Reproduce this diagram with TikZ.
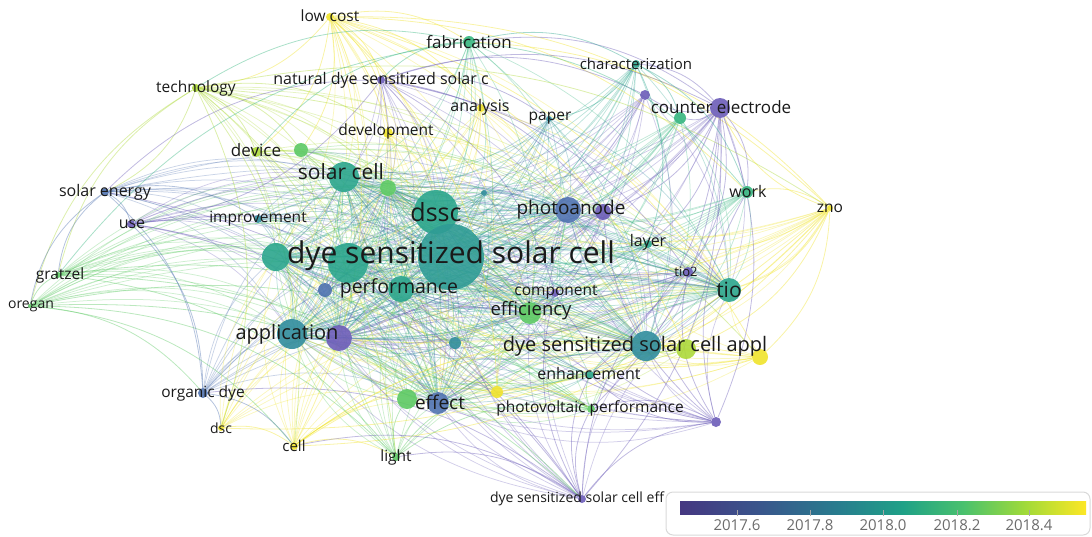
\documentclass[tikz,border=0pt]{standalone}
\usepackage{fontspec}
\setmainfont{Open Sans}
\definecolor{c1}{HTML}{6B5CB8}
\definecolor{c2}{HTML}{4F72B0}
\definecolor{c3}{HTML}{2F8C9C}
\definecolor{c4}{HTML}{2AA58C}
\definecolor{cbig}{HTML}{2F9C95}
\definecolor{c5}{HTML}{35B57E}
\definecolor{c6}{HTML}{5CC963}
\definecolor{c7}{HTML}{ADD93A}
\definecolor{c8}{HTML}{F0E32B}
\definecolor{v0}{HTML}{453781}
\definecolor{v1}{HTML}{39568C}
\definecolor{v2}{HTML}{277F8E}
\definecolor{v3}{HTML}{1FA187}
\definecolor{v4}{HTML}{4AC16D}
\definecolor{v5}{HTML}{A0DA39}
\definecolor{v6}{HTML}{FDE725}
\definecolor{txt}{HTML}{1A1A1A}
\pgfdeclarelayer{edges}
\pgfsetlayers{edges,main}
\tikzset{
  kw/.style={circle, inner sep=0pt, minimum size=2*#1pt, fill opacity=0.9},
  lbl/.style={inner sep=0pt, text=txt},
  ed/.style={draw=#1, line width=0.75pt, draw opacity=0.3},
  edx/.style={draw=#1, line width=0.8pt, draw opacity=0.42},
}
\begin{document}
\begin{tikzpicture}[x=1pt,y=-1pt]
\useasboundingbox (0,0) rectangle (1092,536);
% nodes
\foreach \n/\x/\y/\r/\c in {
 lowcost/330/17/4/c8, tech/196/88/4/c7, fab/469/42/6/c5, natural/381/80/4/c1,
 charact/636/64/4/c4, pdot/645/95/5/c1, counter/720/108/10/c1, tdot/680/118/6/c5,
 analysis/481/108/4/c8, paper/549/119/3/c3, devel/388/133/5/c8, device/256/152/5/c7,
 gdot1/301/150/7/c6, solarcell/344/177/15/c4, gdot2/388/188/8/c6, tsmall/484/193/3/c3,
 solarenergy/105/192/4/c2, use/131/224/4/c1, improvement/258/219/4/c3, dssc/436/212/22/c4,
 photo/568/210/13/c2, photodot/603/212/8/c1, work/747/192/6/c5, zno/830/208/3/c8,
 layer/648/244/4/c4, tio2/688/272/5/c1, tio/729/290/12/c4, big/451/257/33/cbig,
 n276/276/257/14/c4, n348/348/263/20/c4, perf/401/289/13/c4, pdot2/325/290/7/c2,
 gratzel/58/275/3/c6, oregan/30/306/2/c6, component/555/293/4/c1, eff/530/313/11/c6,
 app/292/334/15/c3, appdot/339/338/13/c1, tdot3/455/343/6/c3, dsa/646/346/15/c3,
 gy/686/349/10/c7, ydot/760/357/8/c8, enhance/590/375/4/c4, organic/203/393/5/c2,
 gdot3/407/399/10/c6, effect/438/403/11/c2, ydot2/497/392/6/c8, pvperf/591/409/4/c6,
 pdot3/716/422/5/c1, dsc/221/428/3/c8, cell/294/446/4/c8, light/396/457/4/c6,
 dssceff/582/499/4/c1}
 {\node[kw=\r, fill=\c] (\n) at (\x,\y) {};}
% edges
\begin{pgfonlayer}{edges}
\foreach \s/\c in {lowcost/c8, tech/c7, fab/c5, natural/c1, charact/c4, counter/c1, pdot/c1,
 tdot/c5, analysis/c8, paper/c3, devel/c8, device/c7, gdot1/c6, tsmall/c3, solarenergy/c2,
 use/c1, improvement/c3, photodot/c1, work/c5, zno/c8, layer/c4, tio2/c1, pdot2/c2,
 gratzel/c6, oregan/c6, component/c1, tdot3/c3, gy/c7, ydot/c8, enhance/c4, organic/c2,
 gdot3/c6, ydot2/c8, pvperf/c6, pdot3/c1, dsc/c8, cell/c8, light/c6, dssceff/c1}
 {\foreach \t in {big,dssc,n348,n276,solarcell,perf,app,appdot,eff,dsa,photo,tio,effect,gdot2}
   {\draw[ed=\c] (\s) to[bend left=20] (\t);}}
\foreach \a/\ca [count=\i] in {big/cbig,dssc/c4,n348/c4,n276/c4,solarcell/c4,perf/c4,app/c3,
 appdot/c1,eff/c6,dsa/c3,photo/c2,tio/c4,effect/c2,gdot2/c6}
 {\foreach \b [count=\j] in {big,dssc,n348,n276,solarcell,perf,app,appdot,eff,dsa,photo,tio,effect,gdot2}
   {\ifnum\j>\i \draw[ed=\ca] (\a) to[bend left=15] (\b); \draw[ed=\ca] (\a) to[bend right=10] (\b);\fi}}
\foreach \a/\b/\c in {
 lowcost/tech/c8, lowcost/zno/c8, lowcost/ydot/c8, lowcost/device/c8, lowcost/devel/c8,
 lowcost/fab/c8, lowcost/analysis/c8, lowcost/gy/c8, lowcost/cell/c8, lowcost/natural/c8,
 lowcost/work/c8, lowcost/gdot1/c8, lowcost/ydot2/c8,
 tech/device/c7, oregan/tech/c7, gratzel/tech/c7, tech/cell/c7, tech/dsc/c7,
 tech/solarenergy/c7, tech/zno/c7, tech/ydot/c7, tech/devel/c7, tech/light/c7, tech/gdot1/c7,
 zno/ydot/c8, zno/gy/c8, work/zno/c8, zno/tio/c8, zno/counter/c8, fab/zno/c8, zno/layer/c8,
 zno/ydot2/c8, zno/cell/c8, zno/dsc/c8,
 counter/dssceff/c1, counter/pdot3/c1, counter/work/c1, counter/tdot/c1, counter/pdot/c1,
 charact/counter/c1, fab/counter/c1, counter/tio2/c1, counter/photodot/c1, counter/layer/c1,
 natural/counter/c1, counter/pvperf/c1, counter/enhance/c1,
 dssceff/pdot3/c1, solarenergy/dssceff/c1, use/dssceff/c1, oregan/dssceff/c6,
 gratzel/dssceff/c6, dssceff/pvperf/c1, dssceff/enhance/c1, light/dssceff/c1,
 organic/dssceff/c1, dssceff/tio2/c1, dssceff/component/c1, cell/dssceff/c1,
 pdot3/tio2/c1, pdot3/work/c1, pdot3/photodot/c1, pdot3/enhance/c1, pdot3/component/c1,
 pdot3/layer/c1, pvperf/pdot3/c1,
 natural/use/c1, solarenergy/natural/c1, natural/pdot/c1, natural/paper/c1,
 natural/component/c1, natural/photodot/c1, natural/tio2/c1,
 charact/work/c4, charact/tdot/c4, fab/charact/c4, charact/paper/c4, charact/layer/c4,
 fab/work/c5, device/fab/c5, tech/fab/c5, gratzel/fab/c5, natural/fab/c5,
 solarenergy/use/c2, gratzel/solarenergy/c2, solarenergy/organic/c2, oregan/solarenergy/c2,
 solarenergy/improvement/c2, oregan/gratzel/c6, oregan/pvperf/c6, oregan/cell/c6,
 oregan/light/c6, oregan/organic/c6, gratzel/pvperf/c6, gratzel/light/c6,
 organic/dsc/c2, organic/cell/c2, use/organic/c2, dsc/cell/c8, cell/light/c8,
 cell/ydot2/c8, cell/gy/c8, cell/ydot/c8, light/gdot3/c6, light/pvperf/c6,
 light/ydot2/c6, pvperf/enhance/c6, ydot2/pvperf/c8, gdot3/pvperf/c6}
 {\draw[edx=\c] (\a) to[bend left=22] (\b);}
\end{pgfonlayer}
% labels
\foreach \n/\x/\y/\s/\t in {
 lowcost/330/16/15.5/low cost, tech/196/88/15.5/technology, fab/469/42/17/fabrication,
 natural/381/80/16/natural dye sensitized solar c, charact/636/64/15/characterization,
 counter/721/107/17/counter electrode, analysis/480/107/16/analysis, paper/550/118/15.5/paper,
 devel/386/131/15.5/development, device/256/150/17/device, solarcell/341/172/21/solar cell,
 solarenergy/105/192/16/solar energy, use/132/224/16/use, improvement/258/219/15.5/improvement,
 dssc/436/212/25/dssc, photo/571/210/19/photoanode, work/748/191/16/work, zno/830/208/15.5/zno,
 layer/648/242/16/layer, tio2/686/272/13/tio2, tio/729/290/21/tio,
 big/451/256/30/dye sensitized solar cell, perf/399/288/19.5/performance,
 gratzel/60/275/15.5/gratzel, oregan/31/306/14/oregan, component/556/292/15.5/component,
 eff/531/311/18.5/efficiency, app/287/334/20/application,
 dsa/635/346/20/dye sensitized solar cell appl, enhance/589/373/16/enhancement,
 organic/203/393/15.5/organic dye, effect/440/402/19/effect,
 pvperf/590/408/15.5/photovoltaic performance, dsc/221/428/14/dsc, cell/294/446/15/cell,
 light/396/457/15.5/light, dssceff/577/499/14/dye sensitized solar cell eff}
 {\node[lbl, font=\fontsize{\s}{\s}\selectfont] (\n-l) at (\x,\y) {\t};}
% legend
\node[draw=gray!30, line width=1pt, rounded corners=7pt, fill=white, minimum width=424pt,
 minimum height=43pt, inner sep=0pt] (legend) at (878,513.5) {};
\foreach \xa/\xb/\ca/\cb in {680/761/v0/v1, 760.5/842/v1/v2, 841.5/903/v2/v3,
 902.5/964/v3/v4, 963.5/1025/v4/v5, 1024.5/1086/v5/v6}
 {\fill[left color=\ca, right color=\cb] (\xa,501) rectangle (\xb,514);}
\foreach \tx/\tl in {737/2017.6, 810/2017.8, 883/2018.0, 957/2018.2, 1029/2018.4}
 {\draw[gray!70, line width=0.8pt] (\tx,510) -- (\tx,516);
  \node[text=gray!85!black, font=\fontsize{15}{15}\selectfont, inner sep=0pt] (tick\tl) at (\tx,525) {\tl};}
\end{tikzpicture}
\end{document}
